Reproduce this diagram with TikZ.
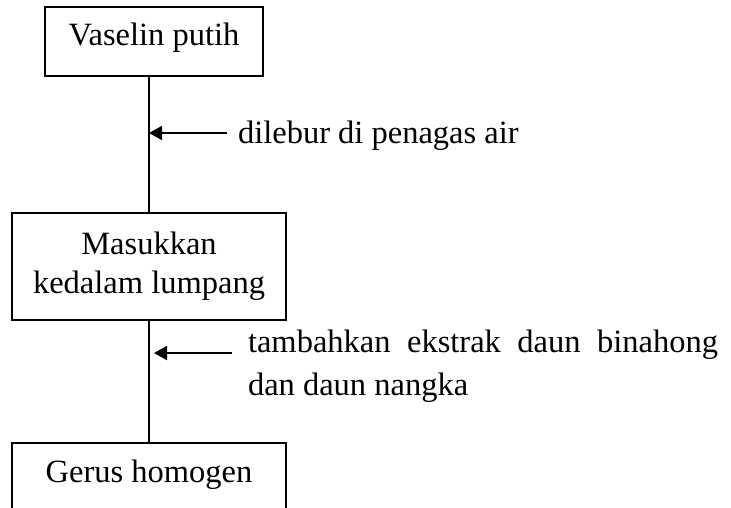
\documentclass[tikz,border=0pt]{standalone}
\usepackage{fontspec}
\setmainfont{Liberation Serif}
\usetikzlibrary{arrows.meta,calc}

\tikzset{
  every node/.style={inner sep=0pt, outer sep=0pt},
  stepbox/.style={draw, line width=1.2pt, align=center,
                  font=\fontsize{32.5}{39}\selectfont},
  onerow/.style={text height=21pt, text depth=12pt},
  link/.style={line width=2pt},
  feed/.style={line width=2pt, -{Triangle[length=13pt,width=14pt]}},
  note/.style={align=left, font=\fontsize{32.5}{43}\selectfont}
}

\begin{document}
\begin{tikzpicture}[x=1pt, y=-1pt]
  \useasboundingbox (0,0) rectangle (731,508);
  \clip (0,0) rectangle (731,508);

  % process steps
  \node[stepbox, onerow, minimum width=218pt, minimum height=69pt]
    (vaselin) at (154,41.5) {Vaselin putih};
  \node[stepbox, minimum width=274pt, minimum height=107pt]
    (lumpang) at (149,266.5) {Masukkan\\kedalam lumpang};
  \node[stepbox, onerow, minimum width=274pt, minimum height=69pt]
    (gerus) at (149,477.5) {Gerus homogen};

  % main flow line
  \draw[link] (vaselin.south -| lumpang.north) -- (lumpang.north);
  \draw[link] (lumpang.south) -- (gerus.north);

  % side notes with their arrows
  \node[note, anchor=base west] (lebur) at (238,143) {dilebur di penagas air};
  \coordinate (in1) at (227,133);
  \draw[feed] (in1) -- (in1 -| lumpang.north);

  % two-line note: its base anchor sits on the last line
  \node[note, anchor=base west] (ekstrak) at (248,395)
    {\makebox[470pt][s]{tambahkan ekstrak daun binahong}\\dan daun nangka};
  \coordinate (in2) at (232,353);
  \draw[feed] (in2) -- ($(in2 -| lumpang.south)+(5,0)$);
\end{tikzpicture}
\end{document}
